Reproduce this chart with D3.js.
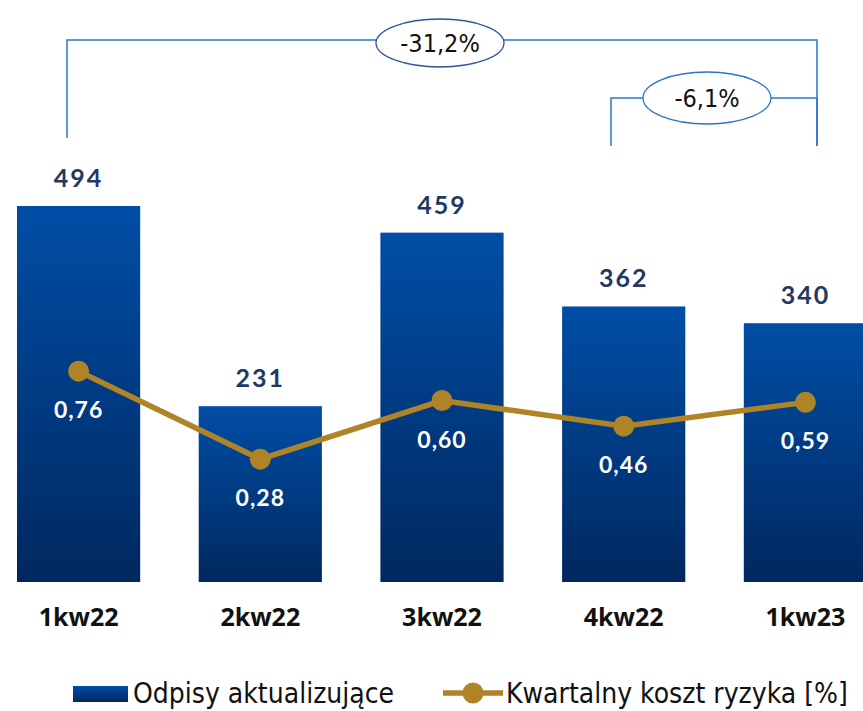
<!DOCTYPE html>
<html><head><meta charset="utf-8">
<script src="https://cdn.jsdelivr.net/npm/d3@7"></script>
<style>body{margin:0;background:#fff}svg{display:block}</style>
</head><body>
<script>
const categories = ["1kw22","2kw22","3kw22","4kw22","1kw23"];
const writeDowns = [494, 231, 459, 362, 340];
const riskCost = [0.76, 0.28, 0.60, 0.46, 0.59];
const riskLabels = ["0,76","0,28","0,60","0,46","0,59"];
const seriesNames = ["Odpisy aktualizujące", "Kwartalny koszt ryzyka [%]"];
const changes = [{from:"1kw22", to:"1kw23", label:"-31,2%"}, {from:"4kw22", to:"1kw23", label:"-6,1%"}];

const W = 863, H = 711;
const svg = d3.select("body").append("svg").attr("width", W).attr("height", H);
const defs = svg.append("defs");
const grad = defs.append("linearGradient").attr("id","barGrad").attr("x1",0).attr("y1",0).attr("x2",0).attr("y2",1);
grad.append("stop").attr("offset","0%").attr("stop-color","#004ea6");
grad.append("stop").attr("offset","100%").attr("stop-color","#00285f");

const x = d3.scaleBand().domain(categories).range([17, 867]).paddingInner(0.322).paddingOuter(0);
const y = d3.scaleLinear().domain([0, 494]).range([582, 206]);
const y2 = d3.scaleLinear().domain([0, 1]).range([510.5, 327.2]);

const bx = c => x(c) + x.bandwidth()/2;

// bars
svg.selectAll("rect.bar").data(writeDowns).join("rect")
  .attr("class","bar")
  .attr("x",(d,i)=>x(categories[i]))
  .attr("width", x.bandwidth())
  .attr("y", d=>y(d)).attr("height", d=>y(0)-y(d))
  .attr("fill","url(#barGrad)");

// value labels
svg.selectAll("text.val").data(writeDowns).join("text")
  .attr("x",(d,i)=>bx(categories[i])).attr("y", d=>y(d)-19)
  .attr("text-anchor","middle")
  .attr("font-family","Lato, 'Open Sans', sans-serif").attr("font-weight","bold")
  .attr("font-size",25).attr("letter-spacing","2px")
  .attr("fill","#1f3864").text(d=>d);

// line
const line = d3.line().x((d,i)=>bx(categories[i])).y(d=>y2(d));
svg.append("path").datum(riskCost).attr("d", line)
  .attr("fill","none").attr("stroke","#ae8427").attr("stroke-width",5.5);
svg.selectAll("circle.pt").data(riskCost).join("circle")
  .attr("cx",(d,i)=>bx(categories[i])).attr("cy", d=>y2(d)).attr("r",10.5)
  .attr("fill","#ae8427");
svg.selectAll("text.rc").data(riskCost).join("text")
  .attr("x",(d,i)=>bx(categories[i])).attr("y", d=>y2(d)+47)
  .attr("text-anchor","middle")
  .attr("font-family","Lato, 'Open Sans', sans-serif").attr("font-weight","bold")
  .attr("font-size",23).attr("letter-spacing","1px")
  .attr("fill","#ffffff").text((d,i)=>riskLabels[i]);

// category axis labels
svg.selectAll("text.cat").data(categories).join("text")
  .attr("x", d=>bx(d)).attr("y", 626)
  .attr("text-anchor","middle")
  .attr("font-family","'Open Sans', 'Noto Sans', sans-serif").attr("font-weight","bold")
  .attr("font-size",25).attr("fill","#111").text(d=>d);

// brackets
const brackets = [
  {x1: 67, x2: 817, top: 40, yl: 138, yr: 146, ex: 440, ey: 43, rx: 64, ry: 24},
  {x1: 611, x2: 817, top: 98, yl: 146, yr: 146, ex: 707, ey: 98, rx: 64, ry: 26}
];
brackets.forEach((b,i)=>{
  svg.append("path")
    .attr("d", `M${b.x1},${b.yl}V${b.top}H${b.x2}V${b.yr}`)
    .attr("fill","none").attr("stroke","#2e75c6").attr("stroke-width",1.5);
  svg.append("ellipse").attr("cx",b.ex).attr("cy",b.ey).attr("rx",b.rx).attr("ry",b.ry)
    .attr("fill","#fff").attr("stroke", i===0 ? "#2f5597" : "#2e75c6").attr("stroke-width",1.3);
  svg.append("text").attr("x",b.ex).attr("y",b.ey+9)
    .attr("text-anchor","middle")
    .attr("font-family","'Liberation Sans Narrow', 'DejaVu Sans Condensed', sans-serif")
    .attr("font-size",25).attr("fill","#111").text(changes[i].label);
});

// legend
const lg = svg.append("g");
lg.append("rect").attr("x",73).attr("y",686).attr("width",55).attr("height",16).attr("fill","url(#barGrad)");
lg.append("text").attr("x",133).attr("y",703)
  .attr("font-family","'Liberation Sans Narrow', 'DejaVu Sans Condensed', sans-serif")
  .attr("font-size",28).attr("fill","#111").text(seriesNames[0]);
lg.append("line").attr("x1",443).attr("x2",503).attr("y1",693).attr("y2",693)
  .attr("stroke","#ae8427").attr("stroke-width",5.5);
lg.append("circle").attr("cx",473).attr("cy",693).attr("r",10.5).attr("fill","#ae8427");
lg.append("text").attr("x",506).attr("y",703)
  .attr("font-family","'Liberation Sans Narrow', 'DejaVu Sans Condensed', sans-serif")
  .attr("font-size",28).attr("fill","#111").text(seriesNames[1]);
</script>
</body></html>
